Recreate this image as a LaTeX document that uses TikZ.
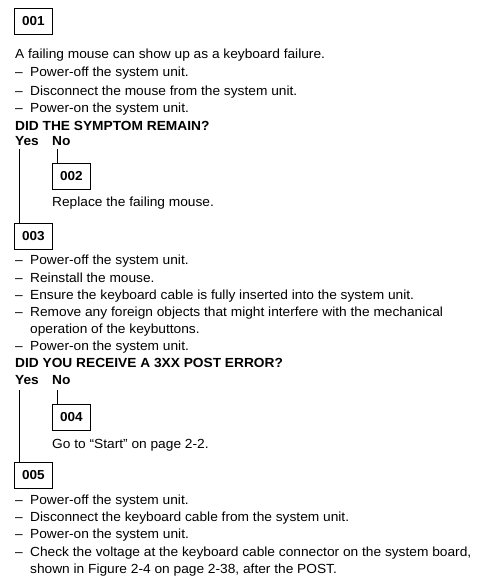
\documentclass[tikz,border=0pt]{standalone}
\usepackage{fontspec}
\setmainfont[FakeStretch=1.04]{Liberation Sans}
\begin{document}
\begin{tikzpicture}[x=1pt,y=-1pt,
  txt/.style={anchor=base west,inner sep=0pt,font=\fontsize{13.2}{15}\selectfont},
  bld/.style={txt,font=\fontsize{13.2}{15}\selectfont\bfseries},
  stepbox/.style={draw,line width=0.8pt,anchor=north west,minimum width=38pt,minimum height=26pt,inner sep=0pt,font=\fontsize{13}{15}\selectfont\bfseries},
  conn/.style={line width=0.8pt}]
\useasboundingbox (0,0) rectangle (479,578);
\newcommand{\dsh}{\makebox[15pt][l]{–}}
% block 001
\node[stepbox] (b001) at (14,8) {001};
\node[txt] (t1) at (15,58.5) {A failing mouse can show up as a keyboard failure.};
\node[txt] (t2) at (15,76.5) {\dsh Power-off the system unit.};
\node[txt] (t3) at (15,95) {\dsh Disconnect the mouse from the system unit.};
\node[txt] (t4) at (15,112.5) {\dsh Power-on the system unit.};
\node[bld] (q1) at (15,130) {DID THE SYMPTOM REMAIN?};
\node[bld] (yes1) at (15,145) {Yes};
\node[bld] (no1) at (52,145) {No};
\coordinate (ys1) at (19,149);
\coordinate (ns1) at (57,149);
% block 002
\node[stepbox] (b002) at (52,163) {002};
\node[txt] (t5) at (52,206.5) {Replace the failing mouse.};
% block 003
\node[stepbox] (b003) at (14,223) {003};
\draw[conn] (ns1) -- (ns1 |- b002.north);
\draw[conn] (ys1) -- (ys1 |- b003.north);
\node[txt] (t6) at (15,264.5) {\dsh Power-off the system unit.};
\node[txt] (t7) at (15,282) {\dsh Reinstall the mouse.};
\node[txt] (t8) at (15,299.5) {\dsh Ensure the keyboard cable is fully inserted into the system unit.};
\node[txt] (t9) at (15,316.5) {\dsh Remove any foreign objects that might interfere with the mechanical};
\node[txt] (t10) at (30,333.5) {operation of the keybuttons.};
\node[txt] (t11) at (15,350.5) {\dsh Power-on the system unit.};
\node[bld] (q2) at (15,367.5) {DID YOU RECEIVE A 3XX POST ERROR?};
\node[bld] (yes2) at (15,384.5) {Yes};
\node[bld] (no2) at (52,384.5) {No};
\coordinate (ys2) at (19,390);
\coordinate (ns2) at (57,390);
% block 004
\node[stepbox] (b004) at (52,404) {004};
\node[txt] (t12) at (52,448.5) {Go to “Start” on page 2-2.};
% block 005
\node[stepbox] (b005) at (14,462) {005};
\draw[conn] (ns2) -- (ns2 |- b004.north);
\draw[conn] (ys2) -- (ys2 |- b005.north);
\node[txt] (t13) at (15,504.5) {\dsh Power-off the system unit.};
\node[txt] (t14) at (15,521.5) {\dsh Disconnect the keyboard cable from the system unit.};
\node[txt] (t15) at (15,538.5) {\dsh Power-on the system unit.};
\node[txt] (t16) at (15,556.5) {\dsh Check the voltage at the keyboard cable connector on the system board,};
\node[txt] (t17) at (30,573.5) {shown in Figure 2-4 on page 2-38, after the POST.};
\end{tikzpicture}
\end{document}
